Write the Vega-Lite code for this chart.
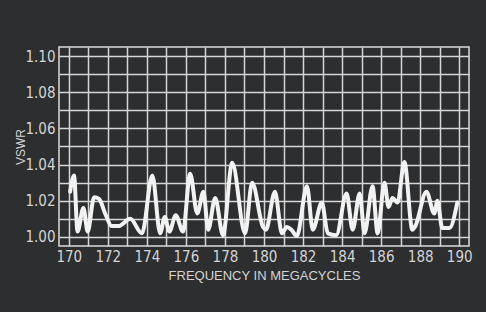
{
  "$schema": "https://vega.github.io/schema/vega-lite/v6.json",
  "width": 410,
  "height": 199,
  "autosize": {"type": "none"},
  "padding": {"left": 59, "top": 47, "right": 17, "bottom": 66},
  "background": "#2c2e2f",
  "config": {
    "view": {"stroke": "#dcdcdc", "strokeWidth": 1.5, "fill": null},
    "axis": {
      "domain": false,
      "ticks": false,
      "grid": true,
      "gridColor": "#d6d6d6",
      "gridWidth": 1.5,
      "gridOpacity": 1,
      "labelColor": "#d4d4d4",
      "labelFont": "Liberation Sans Narrow, DejaVu Sans Condensed, Liberation Sans",
      "labelFontSize": 15,
      "labelOverlap": false,
      "labelBound": false,
      "labelFlush": false,
      "titleColor": "#d4d4d4",
      "titleFont": "Liberation Sans",
      "titleFontSize": 13,
      "titleFontWeight": "normal"
    }
  },
  "data": {
    "values": [
      {"freq": 170.07, "vswr": 1.025},
      {"freq": 170.27, "vswr": 1.034},
      {"freq": 170.45, "vswr": 1.003},
      {"freq": 170.75, "vswr": 1.016},
      {"freq": 170.97, "vswr": 1.003},
      {"freq": 171.3, "vswr": 1.022},
      {"freq": 171.55, "vswr": 1.021},
      {"freq": 171.9, "vswr": 1.012},
      {"freq": 172.2, "vswr": 1.006},
      {"freq": 172.55, "vswr": 1.006},
      {"freq": 173.15, "vswr": 1.01},
      {"freq": 173.75, "vswr": 1.002},
      {"freq": 174.28, "vswr": 1.034},
      {"freq": 174.68, "vswr": 1.002},
      {"freq": 174.92, "vswr": 1.011},
      {"freq": 175.15, "vswr": 1.003},
      {"freq": 175.48, "vswr": 1.012},
      {"freq": 175.85, "vswr": 1.003},
      {"freq": 176.22, "vswr": 1.035},
      {"freq": 176.58, "vswr": 1.013},
      {"freq": 176.9, "vswr": 1.025},
      {"freq": 177.14, "vswr": 1.004},
      {"freq": 177.5, "vswr": 1.0215},
      {"freq": 177.9, "vswr": 1.001},
      {"freq": 178.37, "vswr": 1.041},
      {"freq": 179.03, "vswr": 1.002},
      {"freq": 179.39, "vswr": 1.03},
      {"freq": 179.95, "vswr": 1.0055},
      {"freq": 180.1, "vswr": 1.004},
      {"freq": 180.56, "vswr": 1.025},
      {"freq": 180.92, "vswr": 1.002},
      {"freq": 181.17, "vswr": 1.0055},
      {"freq": 181.4, "vswr": 1.004},
      {"freq": 181.68, "vswr": 1.0005},
      {"freq": 182.2, "vswr": 1.028},
      {"freq": 182.5, "vswr": 1.004},
      {"freq": 182.96, "vswr": 1.019},
      {"freq": 183.27, "vswr": 1.002},
      {"freq": 183.7, "vswr": 1.001},
      {"freq": 184.23, "vswr": 1.024},
      {"freq": 184.54, "vswr": 1.004},
      {"freq": 184.9, "vswr": 1.024},
      {"freq": 185.15, "vswr": 1.002},
      {"freq": 185.56, "vswr": 1.028},
      {"freq": 185.82, "vswr": 1.002},
      {"freq": 186.17, "vswr": 1.03},
      {"freq": 186.38, "vswr": 1.0166},
      {"freq": 186.58, "vswr": 1.0215},
      {"freq": 186.84, "vswr": 1.019},
      {"freq": 187.19, "vswr": 1.0415},
      {"freq": 187.6, "vswr": 1.004},
      {"freq": 187.75, "vswr": 1.006},
      {"freq": 188.32, "vswr": 1.025},
      {"freq": 188.72, "vswr": 1.013},
      {"freq": 188.88, "vswr": 1.02},
      {"freq": 189.13, "vswr": 1.005},
      {"freq": 189.5, "vswr": 1.005},
      {"freq": 189.9, "vswr": 1.019}
    ]
  },
  "mark": {"type": "line", "interpolate": "monotone", "color": "#f2f2f2", "strokeWidth": 4, "strokeCap": "round", "strokeJoin": "round"},
  "encoding": {
    "x": {
      "field": "freq",
      "type": "quantitative",
      "scale": {"domain": [169.5, 190.5], "nice": false, "zero": false},
      "axis": {
        "values": [170, 171, 172, 173, 174, 175, 176, 177, 178, 179, 180, 181, 182, 183, 184, 185, 186, 187, 188, 189, 190],
        "labelExpr": "datum.value % 2 == 0 ? datum.label : ''",
        "labelPadding": 3,
        "title": "FREQUENCY IN MEGACYCLES",
        "titleY": 29,
        "titleBaseline": "middle"
      }
    },
    "y": {
      "field": "vswr",
      "type": "quantitative",
      "scale": {"domain": [0.995, 1.105], "nice": false, "zero": false},
      "axis": {
        "values": [1.0, 1.01, 1.02, 1.03, 1.04, 1.05, 1.06, 1.07, 1.08, 1.09, 1.1],
        "labelExpr": "round(datum.value * 100) % 2 == 0 ? format(datum.value, '.2f') : ''",
        "labelPadding": 4,
        "title": "VSWR",
        "titleFontSize": 12,
        "titleX": -39,
        "titleY": 99.5,
        "titleAngle": -90,
        "titleAlign": "center",
        "titleBaseline": "middle"
      }
    }
  }
}
